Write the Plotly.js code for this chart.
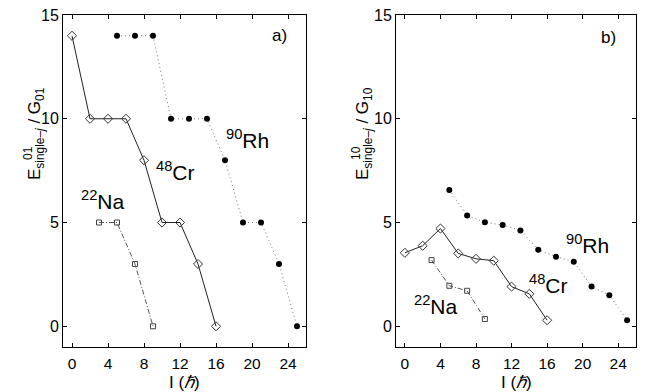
<!DOCTYPE html>
<html><head><meta charset="utf-8">
<script src="https://cdn.plot.ly/plotly-3.0.1.min.js"></script>
<style>html,body{margin:0;padding:0;background:#fff}#c{width:648px;height:392px}</style>
</head><body><div id="c"></div>
<script>
// Panel a) E^01 / G01
const naI = [3, 5, 7, 9];
const naA = [5, 5, 3, 0];
const crI = [0, 2, 4, 6, 8, 10, 12, 14, 16];
const crA = [14, 10, 10, 10, 8, 5, 5, 3, 0];
const rhI = [5, 7, 9, 11, 13, 15, 17, 19, 21, 23, 25];
const rhA = [14, 14, 14, 10, 10, 10, 8, 5, 5, 3, 0];
// Panel b) E^10 / G10
const naB = [3.19, 1.95, 1.71, 0.35];
const crB = [3.54, 3.88, 4.71, 3.51, 3.25, 3.16, 1.91, 1.56, 0.29];
const rhB = [6.57, 5.34, 5.01, 4.88, 4.61, 3.69, 3.35, 3.11, 1.91, 1.50, 0.29];
const xTicks = [0, 4, 8, 12, 16, 20, 24];
const yTicks = [0, 5, 10, 15];

const F = 'Liberation Sans, Arial, sans-serif';
function series(x, y, ax, kind) {
  const st = {
    na: {line: {color: '#555', width: 1, dash: '5px,2px,1px,2px'}, marker: {symbol: 'square-open', size: 5, color: '#444', line: {width: 1}}},
    cr: {line: {color: '#222', width: 1}, marker: {symbol: 'diamond-open', size: 7, color: '#333', line: {width: 1}}},
    rh: {line: {color: '#777', width: 1, dash: '1px,3px'}, marker: {symbol: 'circle', size: 6, color: '#000'}}
  }[kind];
  return Object.assign({x, y, mode: 'lines+markers', xaxis: ax[0], yaxis: ax[1], showlegend: false, hoverinfo: 'skip'}, st);
}
const data = [
  series(naI, naA, ['x', 'y'], 'na'),
  series(crI, crA, ['x', 'y'], 'cr'),
  series(rhI, rhA, ['x', 'y'], 'rh'),
  series(naI, naB, ['x2', 'y2'], 'na'),
  series(crI, crB, ['x2', 'y2'], 'cr'),
  series(rhI, rhB, ['x2', 'y2'], 'rh')
];
function xa(dom, anchor) {
  return {domain: dom, anchor, range: [-1, 26], tickvals: xTicks, ticks: 'inside', ticklen: 4, tickcolor: '#000',
    showline: true, linecolor: '#000', linewidth: 1, mirror: 'ticks', showgrid: false, zeroline: false,
    ticklabelstandoff: 2,
    tickfont: {family: F, size: 15.5, color: '#000'}};
}
function ya(anchor) {
  return {domain: [45/392, 377/392], anchor, range: [-1, 15], tickvals: yTicks, ticks: 'inside', ticklen: 4, tickcolor: '#000',
    showline: true, linecolor: '#000', linewidth: 1, mirror: 'ticks', showgrid: false, zeroline: false,
    tickfont: {family: F, size: 16, color: '#000'}};
}
function lab(text, x, y, xr, yr, size) {
  return {text, x, y, xref: xr, yref: yr, showarrow: false, xanchor: 'center', yanchor: 'middle', font: {family: F, size: size || 21, color: '#000'}};
}
function rot(text, x, y, size) {
  return {text, x: x/648, y: 1 - y/392, xref: 'paper', yref: 'paper', textangle: -90, showarrow: false,
    xanchor: 'center', yanchor: 'middle', font: {family: F, size, color: '#000'}};
}
const annotations = [
  lab('<sup>90</sup>Rh', 19.5, 9.0, 'x', 'y'),
  lab('<sup>48</sup>Cr', 11.5, 7.5, 'x', 'y'),
  lab('<sup>22</sup>Na', 3.4, 6.1, 'x', 'y'),
  lab('a)', 23.0, 14.0, 'x', 'y', 17),
  lab('<sup>90</sup>Rh', 20.5, 3.96, 'x2', 'y2'),
  lab('<sup>48</sup>Cr', 16.2, 2.04, 'x2', 'y2'),
  lab('<sup>22</sup>Na', 3.5, 1.04, 'x2', 'y2'),
  lab('b)', 22.9, 13.9, 'x2', 'y2', 17),
  rot('E<sub>single\u2013<i>j</i></sub> / G<sub>01</sub>', 36, 134, 17),
  rot('01', 28, 153, 12),
  rot('E<sub>single\u2013<i>j</i></sub> / G<sub>10</sub>', 364, 134, 17),
  rot('10', 356, 153, 12),
  {text: 'I (<i>\u210F</i>)', x: 184.5/648, y: 1 - 382/392, xref: 'paper', yref: 'paper', showarrow: false, xanchor: 'center', yanchor: 'middle', font: {family: F, size: 17, color: '#000'}},
  {text: 'I (<i>\u210F</i>)', x: 516/648, y: 1 - 382/392, xref: 'paper', yref: 'paper', showarrow: false, xanchor: 'center', yanchor: 'middle', font: {family: F, size: 17, color: '#000'}}
];
const layout = {
  width: 648, height: 392, margin: {l: 0, r: 0, t: 0, b: 0},
  paper_bgcolor: '#fff', plot_bgcolor: '#fff',
  xaxis: xa([63/648, 306/648], 'y'), yaxis: ya('x'),
  xaxis2: xa([396/648, 636/648], 'y2'), yaxis2: ya('x2'),
  annotations, font: {family: F}
};
Plotly.newPlot('c', data, layout, {staticPlot: true});
</script></body></html>
